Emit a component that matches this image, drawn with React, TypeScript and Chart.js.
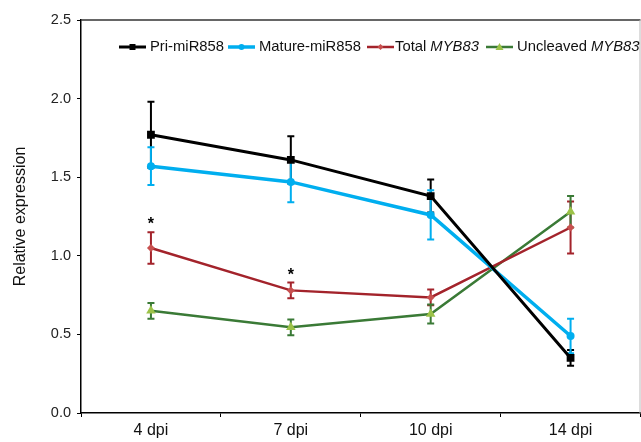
import React, { useEffect, useRef } from 'react';
import { Chart, registerables } from 'chart.js';

Chart.register(...registerables);

const categories = ['4 dpi', '7 dpi', '10 dpi', '14 dpi'];
const priValues = [1.77, 1.61, 1.38, 0.35];
const priErrors = [0.21, 0.15, 0.105, 0.05];
const matureValues = [1.57, 1.47, 1.26, 0.49];
const matureErrors = [0.12, 0.13, 0.157, 0.11];
const totalValues = [1.05, 0.78, 0.735, 1.18];
const totalErrors = [0.10, 0.05, 0.05, 0.165];
const uncleavedValues = [0.65, 0.545, 0.63, 1.28];
const uncleavedErrors = [0.05, 0.05, 0.06, 0.10];
const asteriskIndex = [0, 1];
const asteriskValues = [1.22, 0.895];
const yTicks = [0, 0.5, 1.0, 1.5, 2.0, 2.5];

const FONT = '"Liberation Sans", Arial, sans-serif';
const LEGEND_LINE_X = [119, 228, 367, 486];
const LEGEND_TEXT_X = [150, 259, 395, 517];

type SeriesDef = {
  label: string;
  italic: string;
  values: number[];
  errors: number[];
  color: string;
  markerColor: string;
  marker: string;
  radius: number;
  width: number;
};

const series: SeriesDef[] = [
  { label: 'Pri-miR858', italic: '', values: priValues, errors: priErrors, color: '#000000', markerColor: '#000000', marker: 'rect', radius: 5.5, width: 3 },
  { label: 'Mature-miR858', italic: '', values: matureValues, errors: matureErrors, color: '#00AEEF', markerColor: '#00AEEF', marker: 'circle', radius: 4, width: 3.5 },
  { label: 'Total ', italic: 'MYB83', values: totalValues, errors: totalErrors, color: '#A3232B', markerColor: '#C8504F', marker: 'rectRot', radius: 4, width: 2.5 },
  { label: 'Uncleaved ', italic: 'MYB83', values: uncleavedValues, errors: uncleavedErrors, color: '#3A7A36', markerColor: '#9CC248', marker: 'triangle', radius: 5.5, width: 2.5 },
];

const errorBarPlugin = {
  id: 'errorBars',
  beforeDatasetsDraw(chart: any) {
    const ctx = chart.ctx;
    const xs = chart.scales.x;
    const ys = chart.scales.y;
    ctx.save();
    series.forEach((s) => {
      ctx.strokeStyle = s.color;
      ctx.lineWidth = 2;
      s.values.forEach((v, i) => {
        const x = xs.getPixelForValue(i);
        const yt = ys.getPixelForValue(v + s.errors[i]);
        const yb = ys.getPixelForValue(v - s.errors[i]);
        ctx.beginPath();
        ctx.moveTo(x, yt);
        ctx.lineTo(x, yb);
        ctx.moveTo(x - 3.5, yt);
        ctx.lineTo(x + 3.5, yt);
        ctx.moveTo(x - 3.5, yb);
        ctx.lineTo(x + 3.5, yb);
        ctx.stroke();
      });
    });
    ctx.restore();
  },
  afterDatasetsDraw(chart: any) {
    const ctx = chart.ctx;
    const xs = chart.scales.x;
    const ys = chart.scales.y;
    ctx.save();
    ctx.fillStyle = '#000';
    ctx.font = `bold 16px ${FONT}`;
    ctx.textAlign = 'center';
    ctx.textBaseline = 'middle';
    asteriskIndex.forEach((idx, k) => {
      ctx.fillText('*', xs.getPixelForValue(idx), ys.getPixelForValue(asteriskValues[k]) + 3);
    });
    const a = chart.chartArea;
    ctx.strokeStyle = '#333';
    ctx.lineWidth = 1.5;
    ctx.beginPath();
    ctx.moveTo(a.left, a.top);
    ctx.lineTo(a.right, a.top);
    ctx.stroke();
    ctx.strokeStyle = '#bbb';
    ctx.lineWidth = 1;
    ctx.beginPath();
    ctx.moveTo(a.right - 0.5, a.top);
    ctx.lineTo(a.right - 0.5, a.bottom);
    ctx.stroke();
    ctx.restore();
  },
};

const legendPlugin = {
  id: 'customLegend',
  afterDraw(chart: any) {
    const ctx = chart.ctx;
    ctx.save();
    const y = 47;
    const size = 14.8;
    ctx.textBaseline = 'middle';
    ctx.textAlign = 'left';
    series.forEach((s, i) => {
      const x0 = LEGEND_LINE_X[i];
      const lineLen = 27;
      ctx.strokeStyle = s.color;
      ctx.lineWidth = s.width;
      ctx.beginPath();
      ctx.moveTo(x0, y);
      ctx.lineTo(x0 + lineLen, y);
      ctx.stroke();
      const cx = x0 + lineLen / 2;
      ctx.fillStyle = s.markerColor;
      ctx.beginPath();
      if (s.marker === 'rect') {
        ctx.rect(cx - 3, y - 3, 6, 6);
      } else if (s.marker === 'circle') {
        ctx.arc(cx, y, 3, 0, Math.PI * 2);
      } else if (s.marker === 'rectRot') {
        ctx.moveTo(cx, y - 3);
        ctx.lineTo(cx + 3, y);
        ctx.lineTo(cx, y + 3);
        ctx.lineTo(cx - 3, y);
        ctx.closePath();
      } else {
        ctx.moveTo(cx, y - 4);
        ctx.lineTo(cx + 4, y + 3);
        ctx.lineTo(cx - 4, y + 3);
        ctx.closePath();
      }
      ctx.fill();
      let x = LEGEND_TEXT_X[i];
      ctx.fillStyle = '#111';
      ctx.font = `${size}px ${FONT}`;
      ctx.fillText(s.label, x, y);
      x += ctx.measureText(s.label).width;
      if (s.italic) {
        ctx.font = `italic ${size}px ${FONT}`;
        ctx.fillText(s.italic, x, y);
      }
    });
    ctx.restore();
  },
};

export default function App() {
  const canvasRef = useRef<HTMLCanvasElement | null>(null);
  useEffect(() => {
    if (!canvasRef.current) return;
    const chart = new Chart(canvasRef.current, {
      type: 'line',
      data: {
        labels: categories,
        datasets: series.map((s) => ({
          label: s.label + s.italic,
          data: s.values,
          borderColor: s.color,
          backgroundColor: s.markerColor,
          pointBackgroundColor: s.markerColor,
          pointBorderColor: s.markerColor,
          pointBorderWidth: 0,
          pointStyle: s.marker as any,
          pointRadius: s.radius,
          borderWidth: s.width,
          tension: 0,
        })),
      },
      options: {
        animation: false,
        responsive: false,
        maintainAspectRatio: false,
        layout: { padding: { top: 20, right: 0, left: 0, bottom: 0 } },
        plugins: { legend: { display: false }, tooltip: { enabled: false } },
        scales: {
          x: {
            type: 'category',
            offset: true,
            grid: { offset: true, drawOnChartArea: false, drawTicks: true, tickLength: 4, color: '#000', lineWidth: 1 },
            border: { display: true, color: '#000', width: 1.5 },
            ticks: { color: '#111', font: { size: 16, family: FONT }, padding: 4 },
            afterFit(scale: any) { scale.height = 29; },
          },
          y: {
            min: 0,
            max: 2.5,
            afterBuildTicks(scale: any) { scale.ticks = yTicks.map((v) => ({ value: v })); },
            grid: { drawOnChartArea: false, drawTicks: true, tickLength: 4, color: '#000', lineWidth: 1 },
            border: { display: true, color: '#000', width: 1.5 },
            ticks: {
              color: '#222',
              font: { size: 14.5, family: FONT },
              padding: 6,
              callback: (v: any) => Number(v).toFixed(1),
            },
            title: {
              display: true,
              text: 'Relative expression',
              color: '#111',
              font: { size: 16, family: FONT },
              padding: { top: 11, bottom: 0 },
            },
            afterFit(scale: any) { scale.width = 81; },
          },
        },
      },
      plugins: [errorBarPlugin, legendPlugin],
    });
    return () => chart.destroy();
  }, []);
  return (
    <div style={{ position: 'fixed', left: 0, top: 0, width: 641, height: 442, background: '#fff', overflow: 'hidden' }}>
      <canvas ref={canvasRef} width={646} height={442} style={{ width: 646, height: 442 }} />
    </div>
  );
}
